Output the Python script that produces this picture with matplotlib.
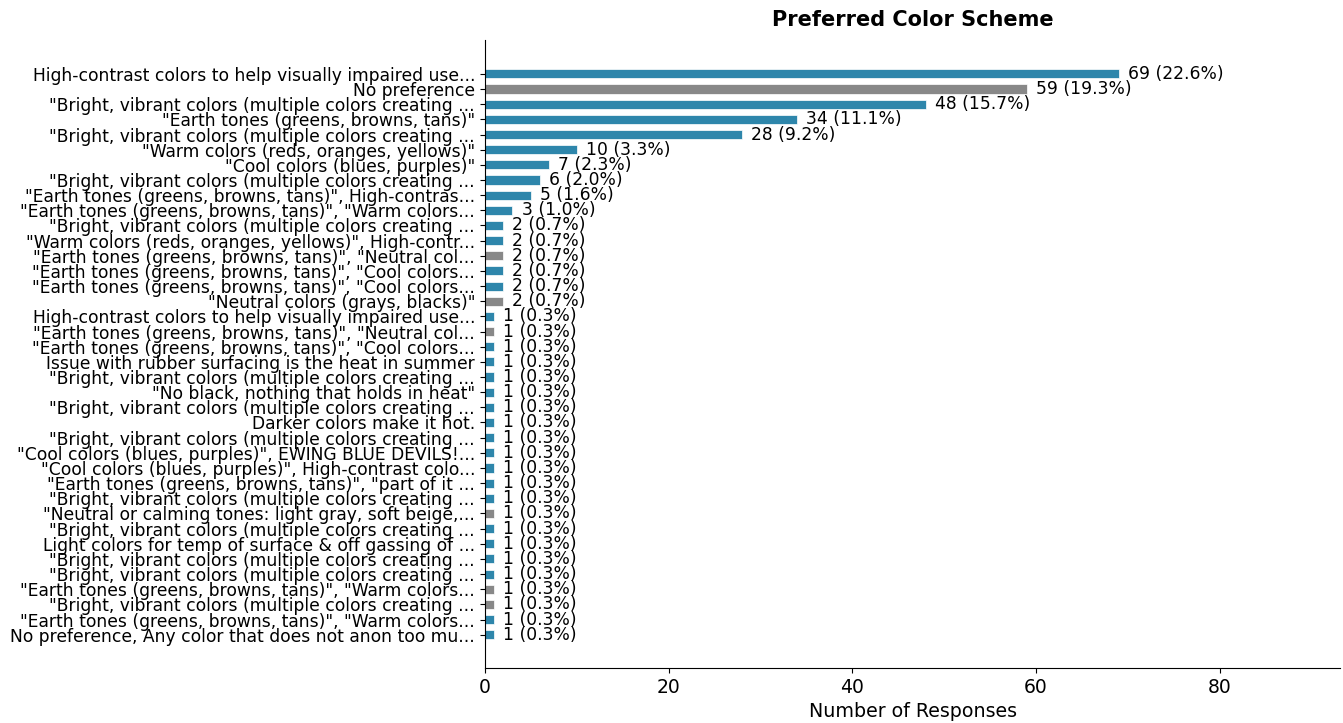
import matplotlib
matplotlib.use("Agg")
import matplotlib.pyplot as plt

labels = [
    'High-contrast colors to help visually impaired use...',
    'No preference',
    '"Bright, vibrant colors (multiple colors creating ...',
    '"Earth tones (greens, browns, tans)"',
    '"Bright, vibrant colors (multiple colors creating ...',
    '"Warm colors (reds, oranges, yellows)"',
    '"Cool colors (blues, purples)"',
    '"Bright, vibrant colors (multiple colors creating ...',
    '"Earth tones (greens, browns, tans)", High-contras...',
    '"Earth tones (greens, browns, tans)", "Warm colors...',
    '"Bright, vibrant colors (multiple colors creating ...',
    '"Warm colors (reds, oranges, yellows)", High-contr...',
    '"Earth tones (greens, browns, tans)", "Neutral col...',
    '"Earth tones (greens, browns, tans)", "Cool colors...',
    '"Earth tones (greens, browns, tans)", "Cool colors...',
    '"Neutral colors (grays, blacks)"',
    'High-contrast colors to help visually impaired use...',
    '"Earth tones (greens, browns, tans)", "Neutral col...',
    '"Earth tones (greens, browns, tans)", "Cool colors...',
    'Issue with rubber surfacing is the heat in summer',
    '"Bright, vibrant colors (multiple colors creating ...',
    '"No black, nothing that holds in heat"',
    '"Bright, vibrant colors (multiple colors creating ...',
    'Darker colors make it hot.',
    '"Bright, vibrant colors (multiple colors creating ...',
    '"Cool colors (blues, purples)", EWING BLUE DEVILS!...',
    '"Cool colors (blues, purples)", High-contrast colo...',
    '"Earth tones (greens, browns, tans)", "part of it ...',
    '"Bright, vibrant colors (multiple colors creating ...',
    '"Neutral or calming tones: light gray, soft beige,...',
    '"Bright, vibrant colors (multiple colors creating ...',
    'Light colors for temp of surface & off gassing of ...',
    '"Bright, vibrant colors (multiple colors creating ...',
    '"Bright, vibrant colors (multiple colors creating ...',
    '"Earth tones (greens, browns, tans)", "Warm colors...',
    '"Bright, vibrant colors (multiple colors creating ...',
    '"Earth tones (greens, browns, tans)", "Warm colors...',
    'No preference, Any color that does not anon too mu...',
]
counts = [69, 59, 48, 34, 28, 10, 7, 6, 5, 3, 2, 2, 2, 2, 2, 2] + [1] * 22
gray_rows = [1, 12, 15, 17, 29, 34, 35]

blue = "#2E86AB"
gray = "#888888"
total = 305

fig, ax = plt.subplots(figsize=(13.43, 7.23), dpi=100)
ypos = list(range(len(labels)))
colors = [gray if i in gray_rows else blue for i in ypos]
ax.barh(ypos, counts, height=0.6, color=colors, edgecolor="white", linewidth=0.5)
for y, c in zip(ypos, counts):
    ax.text(c + 1, y, f"{c} ({c / total * 100:.1f}%)", va="center", ha="left", fontsize=12.3)

ax.set_yticks(ypos)
ax.set_yticklabels(labels, fontsize=12.3)
ax.set_ylim(len(labels) - 1 + 2.2, -2.25)
ax.set_xlim(0, 69 * 1.35)
ax.tick_params(axis="x", labelsize=13.5)
ax.set_xlabel("Number of Responses", fontsize=13.7)
ax.set_title("Preferred Color Scheme", fontsize=15, fontweight="bold", pad=10)
ax.spines["top"].set_visible(False)
ax.spines["right"].set_visible(False)

plt.subplots_adjust(left=0.361, right=0.998, top=0.945, bottom=0.076)
plt.savefig("out.png")
